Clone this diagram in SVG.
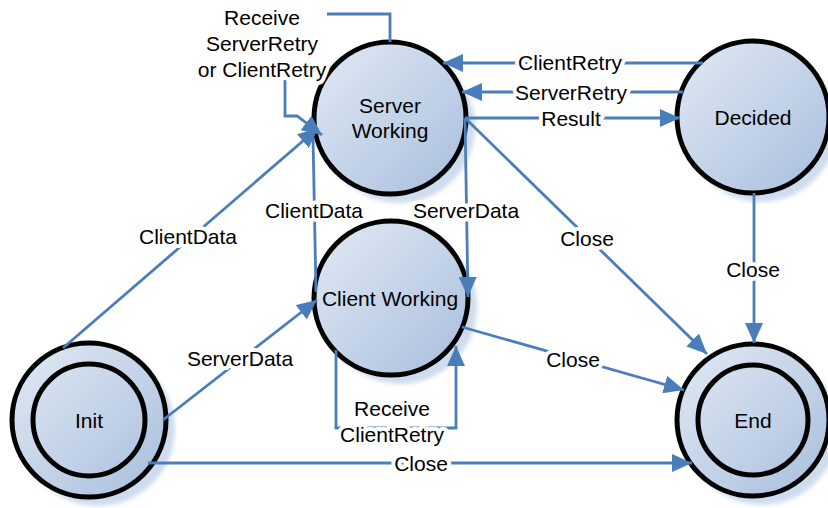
<svg xmlns="http://www.w3.org/2000/svg" width="828" height="508" viewBox="0 0 828 508">
<defs>
<linearGradient id="g" x1="0" y1="0" x2="1" y2="1">
<stop offset="0" stop-color="#e2eaf5"/>
<stop offset="1" stop-color="#a8bedc"/>
</linearGradient>
<filter id="blur" x="-20%" y="-20%" width="140%" height="140%"><feGaussianBlur stdDeviation="2"/></filter>
<marker id="ah" markerUnits="userSpaceOnUse" markerWidth="22" markerHeight="18" refX="20" refY="9" orient="auto">
<path d="M0,0 L20,9 L0,18 Z" fill="#4a7ebb"/>
</marker>
</defs>
<style>
.sh{fill:#cfdcee;filter:url(#blur)}
.n{fill:url(#g);stroke:#000;stroke-width:5}
.in{fill:none;stroke:#000;stroke-width:5}
.t{font-family:"Liberation Sans",Arial,sans-serif;font-size:21px;fill:#000;text-anchor:middle;dominant-baseline:central}
.c{fill:none;stroke:#4a7ebb;stroke-width:2.8}
.l{font-family:"Liberation Sans",Arial,sans-serif;font-size:21px;fill:#000;text-anchor:middle;dominant-baseline:central;stroke:#fff;stroke-width:8;stroke-linejoin:round;paint-order:stroke}
</style>
<g id="shadows">
<circle class="sh" cx="399" cy="127" r="76"/>
<circle class="sh" cx="761" cy="126" r="76"/>
<circle class="sh" cx="400" cy="307" r="77"/>
<circle class="sh" cx="98" cy="429" r="77"/>
<circle class="sh" cx="762" cy="429" r="76"/>
</g>
<g id="server-working">
<circle class="n" cx="390" cy="118" r="76"/>
<text class="t" x="390" y="105">Server</text>
<text class="t" x="390" y="130">Working</text>
</g>
<g id="decided">
<circle class="n" cx="753" cy="117" r="76"/>
<text class="t" x="753" y="117">Decided</text>
</g>
<g id="client-working">
<circle class="n" cx="391" cy="298" r="77"/>
<text class="t" x="390" y="298">Client Working</text>
</g>
<g id="init">
<circle class="n" cx="89" cy="420" r="77"/>
<circle class="in" cx="89" cy="420" r="56"/>
<text class="t" x="89" y="420">Init</text>
</g>
<g id="end">
<circle class="n" cx="753" cy="420" r="76"/>
<circle class="in" cx="753" cy="420" r="55"/>
<text class="t" x="753" y="420">End</text>
</g>
<g id="connectors">
<path class="c" d="M703,63 H443" marker-end="url(#ah)"/>
<path class="c" d="M683,92 H462" marker-end="url(#ah)"/>
<path class="c" d="M465,118 H680" marker-end="url(#ah)"/>
<path class="c" d="M465,118 L707,354" marker-end="url(#ah)"/>
<path class="c" d="M465,118 L468,297" marker-end="url(#ah)"/>
<path class="c" d="M316,292 L313,137"/>
<path class="c" d="M63,348 L318,128" marker-end="url(#ah)"/>
<path class="c" d="M390,42 V14 H327"/>
<path class="c" d="M285,80 V116 H297 L322,135" marker-end="url(#ah)"/>
<path class="c" d="M163,420 L317,300" marker-end="url(#ah)"/>
<path class="c" d="M148,463 H692" marker-end="url(#ah)"/>
<path class="c" d="M462,327 L684,390" marker-end="url(#ah)"/>
<path class="c" d="M754,193 V343" marker-end="url(#ah)"/>
<path class="c" d="M336,350 V428 H456 V346" marker-end="url(#ah)"/>
</g>
<g id="labels">
<text class="l" x="570" y="62">ClientRetry</text>
<text class="l" x="571" y="92">ServerRetry</text>
<text class="l" x="571" y="118">Result</text>
<text class="l" x="587" y="238">Close</text>
<text class="l" x="573" y="359">Close</text>
<text class="l" x="753" y="269">Close</text>
<text class="l" x="421" y="463">Close</text>
<text class="l" x="188" y="236">ClientData</text>
<text class="l" x="240" y="358">ServerData</text>
<text class="l" x="314" y="210">ClientData</text>
<text class="l" x="466" y="210">ServerData</text>
<text class="l" x="392" y="408">Receive</text>
<text class="l" x="392" y="434">ClientRetry</text>
<text class="l" x="262" y="17">Receive</text>
<text class="l" x="262" y="43">ServerRetry</text>
<text class="l" x="262" y="69">or ClientRetry</text>
</g>
</svg>
